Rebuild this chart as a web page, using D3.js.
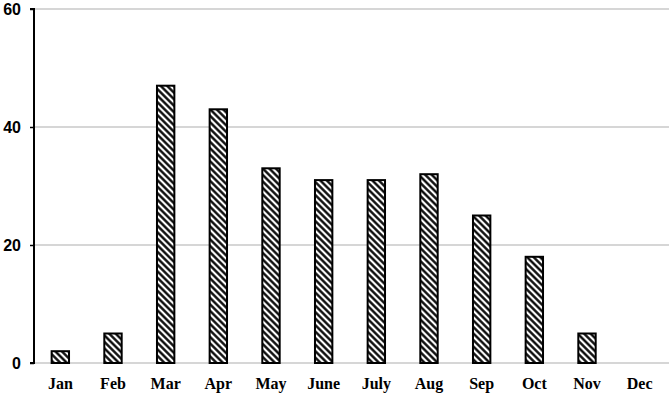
<!DOCTYPE html>
<html><head><meta charset="utf-8">
<script src="https://cdn.jsdelivr.net/npm/d3@7"></script>
<style>body{margin:0;background:#fff}svg{display:block}</style>
</head><body>
<script>
const months = ["Jan","Feb","Mar","Apr","May","June","July","Aug","Sep","Oct","Nov","Dec"];
const counts = [2,5,47,43,33,31,31,32,25,18,5,0];
const yTicks = [0,20,40,60];

const W = 669, H = 396;
const m = {left:34, right:3, top:9, bottom:33};
const svg = d3.select("body").append("svg").attr("width",W).attr("height",H);

const defs = svg.append("defs");
const P = 4.6;
const pat = defs.append("pattern").attr("id","hatch").attr("patternUnits","userSpaceOnUse")
  .attr("width",P).attr("height",P).attr("patternTransform","rotate(-45)");
pat.append("rect").attr("width",P).attr("height",P).attr("fill","#fff");
pat.append("line").attr("x1",P/2).attr("y1",0).attr("x2",P/2).attr("y2",P)
  .attr("stroke","#000").attr("stroke-width",2.3);

const x = d3.scaleBand().domain(months).range([m.left, W-m.right]).paddingInner(0.67).paddingOuter(0.335);
const y = d3.scaleLinear().domain([0,60]).range([H-m.bottom, m.top]);

// gridlines
svg.append("g").selectAll("line").data(yTicks).join("line")
  .attr("x1",m.left).attr("x2",W).attr("y1",d=>y(d)).attr("y2",d=>y(d))
  .attr("stroke","#c8c8c8").attr("stroke-width",1.3);

// bars
svg.append("g").selectAll("rect").data(counts.map((v,i)=>({m:months[i],v})).filter(d=>d.v>0)).join("rect")
  .attr("x",d=>x(d.m)).attr("width",x.bandwidth())
  .attr("y",d=>y(d.v)).attr("height",d=>y(0)-y(d.v))
  .attr("fill","url(#hatch)").attr("stroke","#000").attr("stroke-width",2);

// y axis
const ya = svg.append("g").attr("transform",`translate(${m.left},0)`)
  .call(d3.axisLeft(y).tickValues(yTicks).tickSize(4).tickPadding(9).tickFormat(d3.format("d")));
ya.select(".domain").attr("stroke","#000").attr("stroke-width",2).attr("d",`M-4,${y(60)}H0V${y(0)}H-4`);
ya.selectAll(".tick line").attr("stroke","#000").attr("stroke-width",1.5);
ya.selectAll(".tick text").attr("font-family","Liberation Sans").attr("font-weight","bold").attr("font-size",16).attr("fill","#000");

// x labels
svg.append("g").selectAll("text").data(months).join("text")
  .attr("x",d=>x(d)+x.bandwidth()/2).attr("y",H-m.bottom+26)
  .attr("text-anchor","middle").attr("font-family","Liberation Serif").attr("font-weight","bold").attr("font-size",16).attr("fill","#000")
  .text(d=>d);
</script>
</body></html>
